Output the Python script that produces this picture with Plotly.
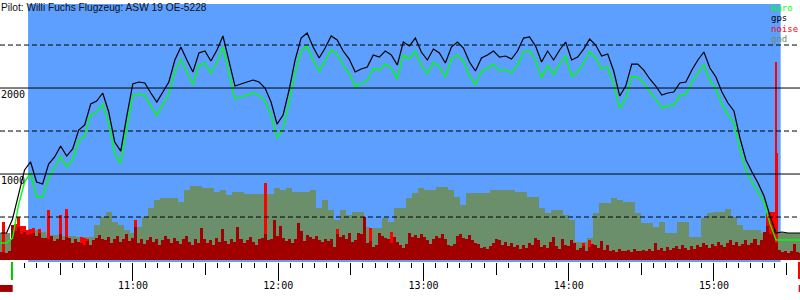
import numpy as np
import pandas as pd
import plotly.graph_objects as go

# ---------------- data ----------------
title_text = "Pilot: Willi Fuchs Flugzeug: ASW 19 OE-5228"
day = "2000-01-01"

sample_start = "10:05:17"
sample_step_s = 149          # logger interval for altitude / ground series

gps_alt = [314,314,477,756,1047,1140,907,884,1116,1198,
           1326,1209,1291,1512,1570,1814,1849,1942,1721,1372,
           1267,1674,2047,2070,2058,1942,1837,1953,2070,2326,
           2477,2326,2186,2407,2430,2314,2442,2605,2326,2023,
           2047,2070,2093,2070,2000,1837,1581,1686,1977,2326,
           2581,2640,2477,2349,2465,2605,2558,2430,2337,2186,
           2221,2244,2384,2360,2430,2384,2267,2535,2488,2581,
           2419,2326,2453,2407,2291,2477,2535,2465,2302,2198,
           2349,2384,2430,2360,2372,2337,2430,2581,2593,2488,
           2302,2430,2326,2442,2535,2326,2360,2453,2570,2500,
           2372,2395,2198,1907,2023,2279,2279,2209,2105,2023,
           1919,1942,1953,2058,2070,2209,2326,2419,2233,2128,
           1953,1826,1733,1419,1163,1023,895,744,512,314,
           326,314,314,314]

baro_alt = [198,198,256,640,907,1012,733,733,953,1073,
            1201,1084,1166,1387,1445,1689,1724,1812,1591,1237,
            1127,1539,1912,1930,1918,1792,1682,1813,1930,2186,
            2337,2186,2041,2267,2290,2169,2302,2475,2186,1873,
            1897,1915,1938,1915,1850,1687,1421,1526,1827,2176,
            2431,2490,2327,2194,2315,2445,2393,2270,2172,2016,
            2056,2084,2229,2205,2280,2234,2107,2385,2338,2431,
            2264,2166,2298,2247,2131,2337,2385,2315,2142,2038,
            2194,2229,2275,2200,2212,2177,2270,2421,2433,2323,
            2117,2265,2156,2277,2375,2136,2185,2293,2425,2350,
            2222,2245,2048,1767,1873,2129,2129,2059,1955,1873,
            1769,1792,1808,1913,1925,2064,2181,2269,2088,1988,
            1813,1691,1593,1289,1043,908,795,674,420,233,
            233,233,233,233]

gnd_alt = [314,314,233,233,233,349,349,326,291,291,
           279,279,279,267,267,267,407,500,558,442,
           407,349,314,384,500,605,698,721,721,721,
           674,814,860,860,837,837,791,814,756,791,
           791,767,767,767,767,767,837,814,837,791,
           791,791,814,605,698,581,465,581,523,558,
           558,384,372,372,488,442,605,605,721,779,
           837,814,814,849,849,814,733,640,779,779,
           779,779,814,814,814,814,791,791,733,733,
           605,547,581,581,523,465,209,209,256,547,
           663,663,721,698,674,674,547,430,430,384,
           442,314,314,442,442,267,267,488,547,558,
           558,593,500,407,349,349,349,314,314,326,
           314,314,314,314]

noise_start = "10:05:17"
noise_step_s = 74.5

noise_base = [90,95,85,100,407,340,380,300,330,290,
              300,320,280,310,260,260,240,280,220,250,
              300,230,270,260,200,240,210,200,180,220,
              180,230,260,290,250,230,270,200,240,280,
              210,250,300,220,260,380,200,240,190,230,
              270,210,250,180,230,280,240,200,260,220,
              190,250,280,210,170,240,200,370,250,200,
              230,180,260,210,360,220,190,240,210,380,
              250,200,230,270,210,180,240,260,300,230,
              250,460,280,400,260,220,250,200,240,430,
              340,220,290,270,250,280,230,210,240,220,
              250,150,300,270,290,250,320,210,230,310,
              300,500,200,220,150,180,320,280,260,240,
              200,270,210,180,140,190,320,270,290,260,
              300,270,230,190,240,280,260,300,240,170,
              160,190,280,300,260,240,290,230,200,190,
              140,150,130,160,200,250,230,180,210,160,
              200,150,180,130,170,140,200,170,260,230,
              150,180,140,210,270,160,130,250,180,160,
              230,200,120,140,160,110,150,190,170,140,
              220,120,180,100,120,90,130,100,110,120,
              90,130,110,100,120,100,130,110,200,120,
              140,110,150,120,140,160,130,170,140,120,
              160,130,180,150,200,170,140,190,160,210,
              180,150,200,230,180,210,160,190,230,170,
              200,240,180,230,330,400,300,350,200,120,
              90,110,80,100,190,90,80]

noise_peak = [0,440,0,0,0,420,500,400,390,350,
              360,370,0,360,0,0,580,0,0,0,
              520,0,590,0,0,0,0,270,260,250,
              0,0,0,0,0,0,0,0,0,0,
              0,0,0,0,0,465,0,0,0,0,
              0,0,0,0,0,0,0,0,0,0,
              0,0,0,0,0,0,0,0,0,0,
              0,0,0,0,0,0,0,0,0,0,
              0,0,0,0,0,0,0,0,895,0,
              0,0,0,0,0,0,0,0,0,0,
              0,0,0,0,0,0,0,0,0,0,
              0,0,360,0,0,0,0,0,0,0,
              0,0,0,370,0,0,0,0,0,0,
              330,0,0,0,0,0,0,0,0,0,
              0,0,0,0,0,0,0,0,0,0,
              0,0,0,0,0,0,0,0,0,0,
              0,0,0,0,0,0,0,0,0,0,
              0,0,0,0,0,0,0,0,0,0,
              0,0,0,0,0,0,0,0,0,0,
              0,0,0,0,200,0,230,0,0,0,
              0,0,0,0,0,0,0,0,0,0,
              0,0,0,0,0,0,0,0,0,0,
              0,0,0,0,0,0,0,0,0,0,
              0,0,0,0,0,0,0,0,0,0,
              0,0,0,0,0,0,0,0,0,0,
              0,0,0,0,0,550,560,560,1244,0,
              0,0,0,0,0,0,0]

spike_times = ["15:25:37"]
spike_vals = [2300]

flight_window = ("10:16:40", "15:27:33")
takeoff_time = "10:10:00"
x_range = ("10:05:04", "15:35:32")
y_range = (-23, 2977)
solid_levels = [1000, 2000]
dashed_levels = [500, 1500, 2500]
label_levels = [1000, 2000]
legend_items = [("baro", "#00ff00"), ("gps", "#000000"),
                ("noise", "#ff0000"), ("gnd", "#6a8f6a")]

# ---------------- styles ----------------
BLUE = "#5c9fff"
GND = "#6a8f6a"
DARKRED = "#a00000"
RED = "#ff0000"
MONO = "DejaVu Sans Mono"


def ts(hms):
    return pd.Timestamp(f"{day} {hms}")


t_alt = ts(sample_start) + pd.to_timedelta(np.arange(len(gps_alt)) * sample_step_s, unit="s")
t_noise = ts(noise_start) + pd.to_timedelta(np.arange(len(noise_base)) * noise_step_s, unit="s")
t_spike = [ts(s) for s in spike_times]

fig = go.Figure()

nobar = dict(width=0)
fig.add_trace(go.Bar(x=t_alt, y=gnd_alt, marker=dict(color=GND, line=nobar),
                     width=sample_step_s * 1000))
fig.add_trace(go.Bar(x=t_noise, y=noise_peak, marker=dict(color=RED, line=nobar),
                     width=noise_step_s * 1000))
fig.add_trace(go.Bar(x=t_spike, y=spike_vals, marker=dict(color=RED, line=nobar),
                     width=25000))
fig.add_trace(go.Bar(x=t_noise, y=noise_base, marker=dict(color=DARKRED, line=nobar),
                     width=noise_step_s * 1000))
fig.add_trace(go.Scatter(x=t_alt, y=baro_alt, mode="lines", line=dict(color="#00ff00", width=1.4)))
fig.add_trace(go.Scatter(x=t_alt, y=gps_alt, mode="lines", line=dict(color="#000000", width=1.2)))
# empty trace to instantiate the half-hour tick axis
fig.add_trace(go.Scatter(x=[], y=[], xaxis="x2", yaxis="y"))

shapes = [dict(type="rect", xref="x", yref="paper", x0=ts(flight_window[0]), x1=ts(flight_window[1]),
               y0=0, y1=1, fillcolor=BLUE, line=dict(width=0), layer="below")]
for lv in solid_levels:
    shapes.append(dict(type="line", xref="paper", yref="y", x0=0, x1=1, y0=lv, y1=lv,
                       line=dict(color="black", width=1), layer="above"))
for lv in dashed_levels:
    shapes.append(dict(type="line", xref="paper", yref="y", x0=0, x1=1, y0=lv, y1=lv,
                       line=dict(color="black", width=1, dash="5px,3px"), layer="above"))
# takeoff marker below axis
to = ts(takeoff_time)
shapes.append(dict(type="rect", xref="x", yref="paper", x0=to - pd.Timedelta(seconds=25),
                   x1=to + pd.Timedelta(seconds=25), y0=0, y1=-0.07, fillcolor="#00c800",
                   line=dict(width=0), layer="above"))
# end marker and bottom scale swatches
shapes.append(dict(type="rect", xref="paper", yref="paper", x0=0.9975, x1=1.0, y0=0, y1=-0.066,
                   fillcolor=RED, line=dict(width=0)))
shapes.append(dict(type="rect", xref="paper", yref="paper", x0=0, x1=0.0159, y0=-0.089, y1=-0.116,
                   fillcolor=DARKRED, line=dict(width=0)))
shapes.append(dict(type="rect", xref="paper", yref="paper", x0=0.9984, x1=1.0, y0=-0.089, y1=-0.116,
                   fillcolor=RED, line=dict(width=0)))

annotations = [dict(text=title_text, xref="paper", yref="paper", x=0, y=0.988, xanchor="left",
                    yanchor="middle", showarrow=False, borderpad=0,
                    font=dict(family="Liberation Sans, Arial", size=10.2, color="#111"))]
for lv in label_levels:
    annotations.append(dict(text=str(lv), xref="paper", yref="y", x=0, y=lv, xanchor="left",
                            yanchor="top", showarrow=False, borderpad=0,
                            font=dict(family=MONO, size=10, color="black")))
for k, (name, col) in enumerate(legend_items):
    annotations.append(dict(text=name, xref="paper", yref="paper", x=0.9625,
                            y=1 - (3.5 + 10.6 * k) / 258, xanchor="left", yanchor="middle",
                            showarrow=False, borderpad=0, font=dict(family=MONO, size=9, color=col)))

fig.update_layout(
    width=800, height=300, margin=dict(l=0, r=0, t=4, b=38),
    paper_bgcolor="white", plot_bgcolor="white", showlegend=False,
    barmode="overlay", bargap=0,
    shapes=shapes, annotations=annotations,
    xaxis=dict(type="date", range=[ts(x_range[0]), ts(x_range[1])], tickformat="%H:%M",
               dtick=3600000, tick0=ts("11:00"), ticks="outside", ticklen=18, tickwidth=1,
               tickcolor="black", showgrid=False, zeroline=False, showline=False,
               ticklabelstandoff=-4,
               tickfont=dict(family=MONO, size=10, color="black"),
               minor=dict(dtick=300000, tick0=ts("10:05"), ticks="outside", ticklen=5,
                          tickwidth=1, tickcolor="black", showgrid=False)),
    xaxis2=dict(type="date", overlaying="x", matches="x", anchor="y", side="bottom",
                dtick=3600000, tick0=ts("10:30"), ticks="outside", ticklen=12, tickwidth=1,
                tickcolor="black", showticklabels=False, showgrid=False, zeroline=False,
                showline=False),
    yaxis=dict(range=list(y_range), showgrid=False, zeroline=False, showticklabels=False,
               ticks=""),
)

fig.write_html("out.html")
